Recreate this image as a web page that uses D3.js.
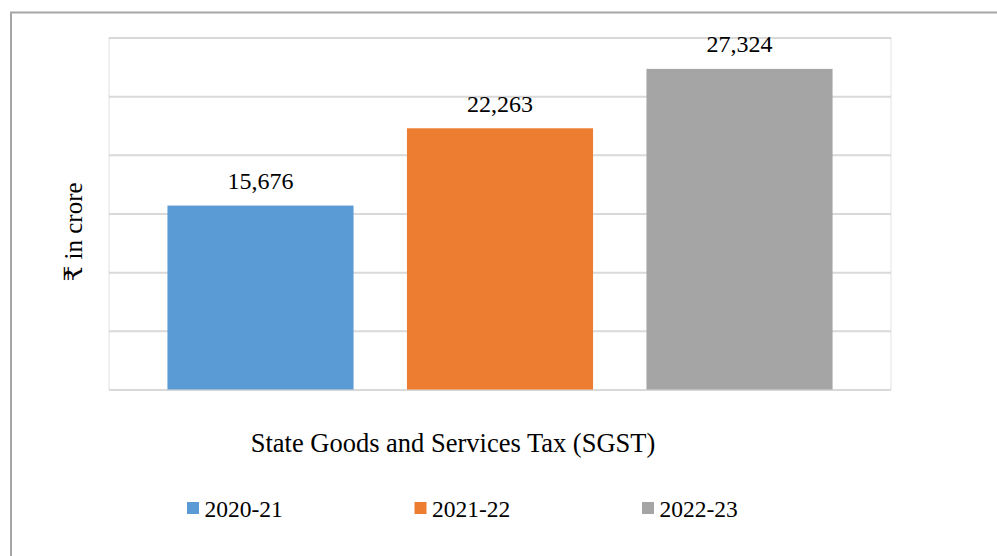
<!DOCTYPE html>
<html>
<head>
<meta charset="utf-8">
<script src="https://cdn.jsdelivr.net/npm/d3@7"></script>
<style>
  html, body { margin: 0; padding: 0; background: #fff; }
  svg { display: block; }
  text { font-family: "Liberation Serif", "Times New Roman", "DejaVu Serif", serif; fill: #000; }
</style>
</head>
<body>
<svg id="chart" width="997" height="556"></svg>
<script>
// SGST collections by year (₹ in crore)
const category = "State Goods and Services Tax (SGST)";
const series = ["2020-21", "2021-22", "2022-23"];
const values = [15676, 22263, 27324];
const colors = ["#5b9bd5", "#ed7d31", "#a5a5a5"];
const yTicks = [0, 5000, 10000, 15000, 20000, 25000, 30000];
const yTitle = "₹ in crore";

const svg = d3.select("#chart");
const W = 997, H = 556;
const plot = { left: 109, right: 891, top: 37.5, bottom: 389.5 };

// outer frame (right and bottom edges run past the page)
svg.append("rect")
  .attr("x", 11).attr("y", 12.5)
  .attr("width", W + 20).attr("height", H + 20)
  .attr("fill", "none").attr("stroke", "#a6a6a6").attr("stroke-width", 2);

const y = d3.scaleLinear().domain([0, 30000]).range([plot.bottom, plot.top]);
const x = d3.scaleBand().domain(series)
  .range([plot.left, plot.right])
  .paddingInner(0.223).paddingOuter(0.244);

// plot-area border
svg.append("rect")
  .attr("x", plot.left).attr("y", plot.top)
  .attr("width", plot.right - plot.left).attr("height", plot.bottom - plot.top)
  .attr("fill", "none").attr("stroke", "#e2e2e2").attr("stroke-width", 1);

// horizontal gridlines
const grid = d3.axisLeft(y).tickValues(yTicks).tickSize(-(plot.right - plot.left)).tickFormat("");
svg.append("g")
  .attr("transform", `translate(${plot.left},0)`)
  .call(grid)
  .call(g => g.select(".domain").remove())
  .call(g => g.selectAll(".tick line").attr("stroke", "#d9d9d9").attr("stroke-width", 2));

// bars
svg.append("g").selectAll("rect")
  .data(series)
  .join("rect")
  .attr("x", d => x(d))
  .attr("width", x.bandwidth())
  .attr("y", (d, i) => y(values[i]))
  .attr("height", (d, i) => y(0) - y(values[i]))
  .attr("fill", (d, i) => colors[i]);

// value labels
const fmt = d3.format(",");
svg.append("g").selectAll("text")
  .data(series)
  .join("text")
  .attr("x", d => x(d) + x.bandwidth() / 2)
  .attr("y", (d, i) => y(values[i]) - 16.5)
  .attr("text-anchor", "middle")
  .attr("font-size", 24)
  .text((d, i) => fmt(values[i]));

// category label
svg.append("text")
  .attr("x", 453).attr("y", 451.5)
  .attr("text-anchor", "middle")
  .attr("font-size", 26.5)
  .text(category);

// y-axis title
svg.append("text")
  .attr("transform", "translate(82,232) rotate(-90)")
  .attr("text-anchor", "middle")
  .attr("font-size", 25)
  .text(yTitle);

// legend
const lx = d3.scalePoint().domain(series).range([187, 642]);
const legend = svg.append("g").selectAll("g")
  .data(series)
  .join("g")
  .attr("transform", d => `translate(${lx(d)},0)`);
legend.append("rect")
  .attr("x", 0).attr("y", 502)
  .attr("width", 12).attr("height", 12)
  .attr("fill", (d, i) => colors[i]);
legend.append("text")
  .attr("x", 17.5).attr("y", 516.8)
  .attr("font-size", 23.5)
  .text(d => d);
</script>
</body>
</html>
